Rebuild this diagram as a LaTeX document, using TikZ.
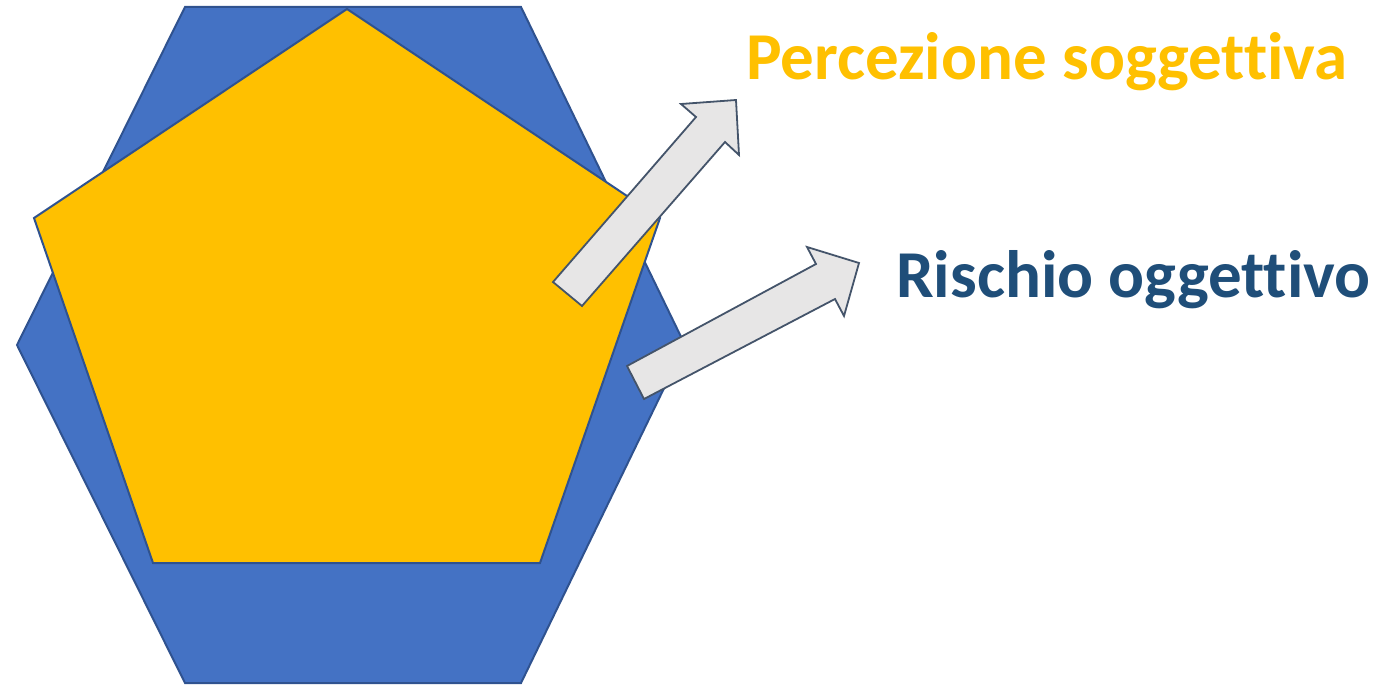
\documentclass[tikz,border=0pt]{standalone}
\usepackage{fontspec}
\setmainfont[Ligatures=NoCommon]{Carlito}
\definecolor{hexfill}{HTML}{4472C4}
\definecolor{shapeline}{HTML}{2F528F}
\definecolor{pentfill}{HTML}{FFC000}
\definecolor{arrowfill}{HTML}{E7E6E6}
\definecolor{arrowline}{HTML}{44546A}
\definecolor{textblue}{HTML}{1F4E79}
\definecolor{textgold}{HTML}{FFC000}
\tikzset{
  hexshape/.style={fill=hexfill, draw=shapeline, line width=2pt, line join=miter},
  pentshape/.style={fill=pentfill, draw=shapeline, line width=2pt, line join=miter},
  blockarrow/.style={fill=arrowfill, draw=arrowline, line width=1.8pt, line join=miter},
  label/.style={font=\fontsize{67}{71}\selectfont\bfseries, inner sep=0pt, anchor=base west}
}
\begin{document}
\begin{tikzpicture}[x=1pt,y=-1pt]
\useasboundingbox (0,0) rectangle (1397,685);
% hexagon
\coordinate (h1) at (185,7);
\coordinate (h2) at (521,7);
\coordinate (h3) at (685,345);
\coordinate (h4) at (521,683);
\coordinate (h5) at (185,683);
\coordinate (h6) at (17,345);
\draw[hexshape] (h1) -- (h2) -- (h3) -- (h4) -- (h5) -- (h6) -- cycle;
% pentagon
\coordinate (p1) at (347,9);
\coordinate (p2) at (660,218);
\coordinate (p3) at (540,563);
\coordinate (p4) at (153,563);
\coordinate (p5) at (34,218);
\draw[pentshape] (p1) -- (p2) -- (p3) -- (p4) -- (p5) -- cycle;
% upper arrow
\coordinate (a1) at (553,282);
\coordinate (a2) at (696,117);
\coordinate (a3) at (681,104);
\coordinate (a4) at (736,100);
\coordinate (a5) at (739,155);
\coordinate (a6) at (725,142);
\coordinate (a7) at (582,306);
\draw[blockarrow] (a1) -- (a2) -- (a3) -- (a4) -- (a5) -- (a6) -- (a7) -- cycle;
% lower arrow
\coordinate (b1) at (627,366);
\coordinate (b2) at (816,264);
\coordinate (b3) at (807,247);
\coordinate (b4) at (859,263);
\coordinate (b5) at (844,316);
\coordinate (b6) at (835,299);
\coordinate (b7) at (644,399);
\draw[blockarrow] (b1) -- (b2) -- (b3) -- (b4) -- (b5) -- (b6) -- (b7) -- cycle;
% labels
\node[label, text=textgold] (perc) at (746,80) {Percezione soggettiva};
\node[label, text=textblue] (risc) at (896,297) {Rischio oggettivo};
\end{tikzpicture}
\end{document}
